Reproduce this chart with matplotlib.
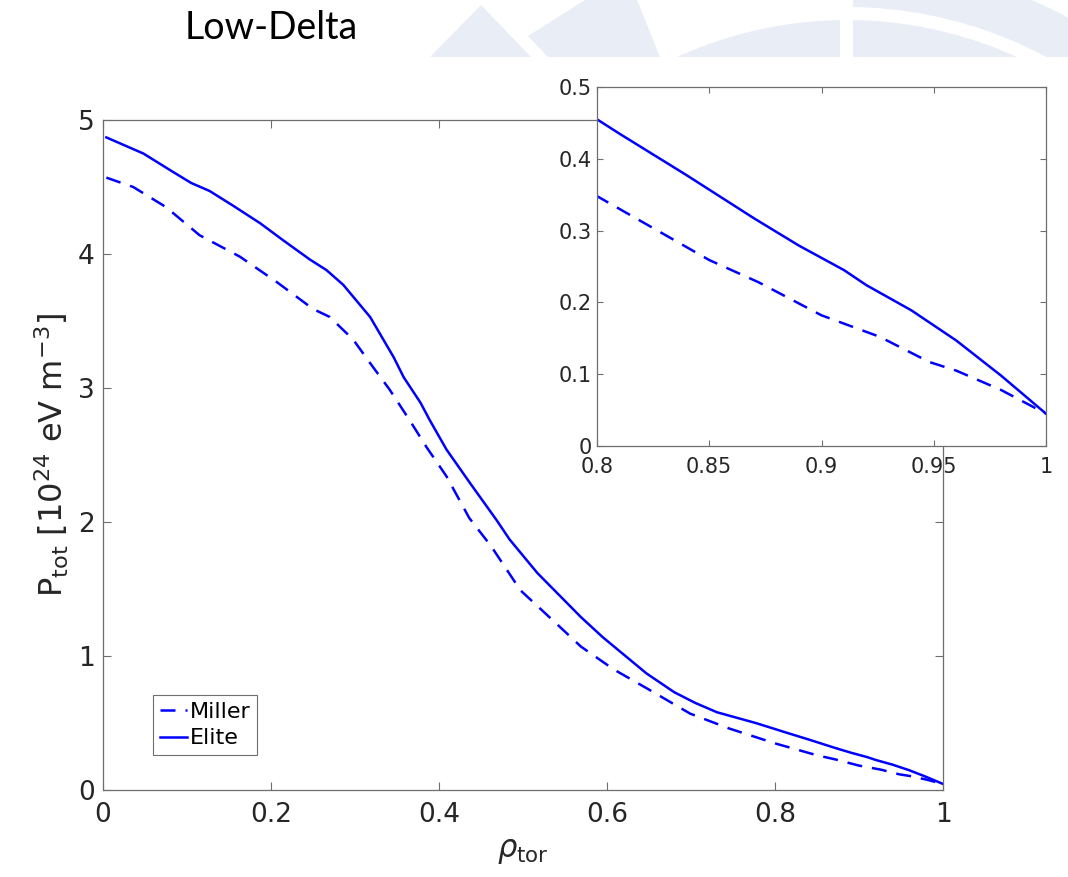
import matplotlib
matplotlib.use("Agg")
import matplotlib.pyplot as plt
from matplotlib.patches import Polygon, Circle, Wedge, Rectangle
from matplotlib.ticker import FuncFormatter

plt.rcParams['font.family'] = 'DejaVu Sans'
plt.rcParams['mathtext.fontset'] = 'dejavusans'
plt.rcParams['mathtext.default'] = 'it'

# profiles
rho_miller = [0.004, 0.036, 0.075, 0.115, 0.163, 0.207, 0.250, 0.270, 0.298, 0.321,
              0.341, 0.365, 0.385, 0.409, 0.436, 0.462, 0.497, 0.540, 0.569, 0.608,
              0.647, 0.699, 0.745, 0.800, 0.850, 0.872, 0.900, 0.926, 0.948, 0.960,
              0.980, 1.000]
p_miller = [4.57, 4.50, 4.35, 4.14, 3.98, 3.79, 3.59, 3.53, 3.36, 3.16,
            2.99, 2.76, 2.56, 2.34, 2.03, 1.82, 1.49, 1.24, 1.07, 0.90,
            0.76, 0.57, 0.46, 0.348, 0.259, 0.228, 0.182, 0.152, 0.117, 0.105,
            0.078, 0.045]

rho_elite = [0.004, 0.048, 0.084, 0.105, 0.127, 0.155, 0.187, 0.215, 0.246, 0.266,
             0.286, 0.318, 0.346, 0.358, 0.378, 0.389, 0.409, 0.437, 0.469, 0.484,
             0.517, 0.569, 0.595, 0.647, 0.680, 0.705, 0.731, 0.777, 0.800, 0.810,
             0.840, 0.870, 0.890, 0.910, 0.920, 0.940, 0.960, 0.980, 1.000]
p_elite = [4.87, 4.75, 4.61, 4.53, 4.47, 4.36, 4.23, 4.10, 3.96, 3.88,
           3.77, 3.53, 3.23, 3.08, 2.89, 2.76, 2.54, 2.29, 2.01, 1.87,
           1.62, 1.29, 1.14, 0.87, 0.73, 0.65, 0.58, 0.50, 0.455, 0.435,
           0.377, 0.317, 0.279, 0.245, 0.224, 0.189, 0.147, 0.098, 0.045]

main_xticks = [0, 0.2, 0.4, 0.6, 0.8, 1]
main_yticks = [0, 1, 2, 3, 4, 5]
inset_xticks = [0.8, 0.85, 0.9, 0.95, 1]
inset_yticks = [0, 0.1, 0.2, 0.3, 0.4, 0.5]

blue = '#0000FF'
spine_col = '#6e6e6e'
txt_col = '#262626'
wm_col = '#E9EEF6'

fig = plt.figure(figsize=(10.68, 8.77), dpi=100)

# slide background watermark (pixel coords, y down)
bg = fig.add_axes([0, 0, 1, 1], zorder=-5)
bg.set_xlim(0, 1068)
bg.set_ylim(877, 0)
bg.axis('off')
clip_all = Rectangle((0, 0), 1068, 57, transform=bg.transData)
clip_right = Rectangle((853, 0), 215, 57, transform=bg.transData)
shapes = [
    (Polygon([(430, 57), (481, 5), (531, 57)]), clip_all),
    (Polygon([(548, 57), (528, 36), (585, 0), (637, 0), (660, 57)]), clip_all),
    (Wedge((847, 429), 467, 0, 360, width=45), clip_right),
    (Circle((847, 429), 409), clip_all),
]
for s, c in shapes:
    s.set_facecolor(wm_col)
    s.set_edgecolor('none')
    bg.add_patch(s)
    s.set_clip_path(c)
bg.add_patch(Rectangle((840, 0), 13, 57, facecolor='white', edgecolor='none'))

fig.text(185 / 1068, 1 - 28 / 877, 'Low-Delta', family='Lato', fontsize=27,
         color='black', va='center', ha='left')

fmt = FuncFormatter(lambda v, p: '%g' % v)


def style(ax, size, ticklen, padx, pady):
    for sp in ax.spines.values():
        sp.set_color(spine_col)
        sp.set_linewidth(0.9)
    ax.tick_params(direction='in', top=True, right=True, length=ticklen,
                   width=0.8, color=spine_col, labelcolor=txt_col, labelsize=size)
    ax.tick_params(axis='x', pad=padx)
    ax.tick_params(axis='y', pad=pady)
    ax.xaxis.set_major_formatter(fmt)
    ax.yaxis.set_major_formatter(fmt)


# main axes
ax = fig.add_axes([103 / 1068, 87 / 877, 840 / 1068, 670 / 877])
ax.plot(rho_miller, p_miller, color=blue, lw=1.8, ls=(0, (6, 4)), label='Miller')
ax.plot(rho_elite, p_elite, color=blue, lw=1.8, label='Elite')
ax.set_xlim(0, 1)
ax.set_ylim(0, 5)
ax.set_xticks(main_xticks)
ax.set_yticks(main_yticks)
style(ax, 19, 6, 9, 6)
ax.set_xlabel(r'$\rho_{\mathrm{tor}}$', fontsize=22, color=txt_col, labelpad=6)
ax.set_ylabel(r'P$_{\mathrm{tot}}$ [10$^{\mathrm{24}}$ eV m$^{\mathrm{-3}}$]',
              fontsize=23, color=txt_col, labelpad=5)
leg = ax.legend(loc='lower left', bbox_to_anchor=(0.0595, 0.052), borderaxespad=0,
                fontsize=16, fancybox=False, framealpha=1, edgecolor=spine_col,
                handlelength=1.25, handletextpad=0.1, borderpad=0.3,
                labelspacing=0.3)
leg.get_frame().set_linewidth(0.8)
for t in leg.get_texts():
    t.set_color('black')

# inset
ins = fig.add_axes([597 / 1068, 431 / 877, 449 / 1068, 359 / 877])
ins.plot(rho_miller, p_miller, color=blue, lw=1.8, ls=(0, (6, 4)))
ins.plot(rho_elite, p_elite, color=blue, lw=1.8)
ins.set_xlim(0.8, 1)
ins.set_ylim(0, 0.5)
ins.set_xticks(inset_xticks)
ins.set_yticks(inset_yticks)
style(ins, 15, 4, 8, 4)

fig.savefig('out.png', dpi=100)
